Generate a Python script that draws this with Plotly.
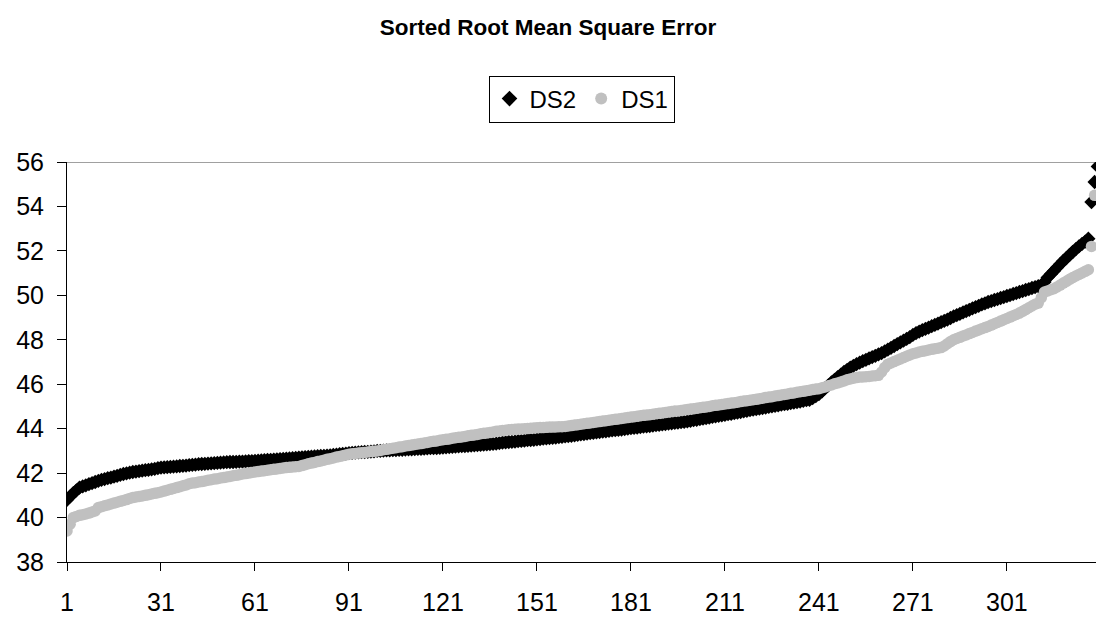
import plotly.graph_objects as go

title_text = "Sorted Root Mean Square Error"
series_names = ["DS2", "DS1"]
x_tick_labels = [1, 31, 61, 91, 121, 151, 181, 211, 241, 271, 301]

ds2 = [
    40.80, 40.95, 41.10, 41.22, 41.35, 41.40, 41.45, 41.50, 41.55, 41.60,
    41.65, 41.70, 41.73, 41.77, 41.80, 41.84, 41.88, 41.92, 41.96, 41.99,
    42.02, 42.05, 42.07, 42.09, 42.11, 42.13, 42.15, 42.17, 42.19, 42.22,
    42.25, 42.26, 42.27, 42.28, 42.29, 42.30, 42.32, 42.33, 42.34, 42.36,
    42.37, 42.38, 42.40, 42.41, 42.42, 42.43, 42.44, 42.45, 42.46, 42.47,
    42.48, 42.49, 42.50, 42.50, 42.51, 42.52, 42.52, 42.53, 42.54, 42.54,
    42.55, 42.56, 42.57, 42.58, 42.59, 42.60, 42.61, 42.62, 42.63, 42.64,
    42.65, 42.66, 42.67, 42.68, 42.70, 42.71, 42.72, 42.73, 42.74, 42.75,
    42.76, 42.77, 42.78, 42.79, 42.80, 42.82, 42.83, 42.85, 42.86, 42.88,
    42.90, 42.91, 42.92, 42.93, 42.94, 42.95, 42.96, 42.97, 42.98, 43.00,
    43.00, 43.01, 43.02, 43.02, 43.03, 43.04, 43.05, 43.05, 43.06, 43.07,
    43.07, 43.08, 43.09, 43.09, 43.10, 43.11, 43.12, 43.12, 43.13, 43.14,
    43.15, 43.16, 43.17, 43.18, 43.19, 43.20, 43.21, 43.22, 43.23, 43.24,
    43.25, 43.26, 43.27, 43.28, 43.29, 43.31, 43.32, 43.33, 43.35, 43.37,
    43.38, 43.40, 43.41, 43.42, 43.44, 43.45, 43.46, 43.48, 43.49, 43.50,
    43.52, 43.53, 43.55, 43.56, 43.58, 43.59, 43.60, 43.62, 43.63, 43.65,
    43.67, 43.68, 43.70, 43.72, 43.74, 43.76, 43.78, 43.80, 43.81, 43.83,
    43.85, 43.87, 43.88, 43.90, 43.92, 43.93, 43.95, 43.96, 43.98, 44.00,
    44.02, 44.04, 44.05, 44.07, 44.09, 44.10, 44.12, 44.14, 44.16, 44.17,
    44.19, 44.21, 44.23, 44.24, 44.26, 44.27, 44.29, 44.31, 44.33, 44.35,
    44.38, 44.40, 44.43, 44.45, 44.48, 44.50, 44.53, 44.55, 44.58, 44.60,
    44.62, 44.65, 44.67, 44.70, 44.72, 44.75, 44.78, 44.80, 44.83, 44.86,
    44.88, 44.90, 44.93, 44.95, 44.98, 45.00, 45.03, 45.05, 45.08, 45.10,
    45.12, 45.15, 45.17, 45.20, 45.22, 45.25, 45.28, 45.30, 45.38, 45.46,
    45.55, 45.68, 45.82, 45.95, 46.08, 46.20, 46.32, 46.43, 46.55, 46.65,
    46.75, 46.83, 46.90, 46.97, 47.04, 47.10, 47.16, 47.22, 47.28, 47.34,
    47.40, 47.48, 47.56, 47.64, 47.72, 47.80, 47.88, 47.96, 48.04, 48.12,
    48.22, 48.30, 48.37, 48.43, 48.49, 48.55, 48.61, 48.67, 48.73, 48.79,
    48.85, 48.91, 48.98, 49.05, 49.11, 49.17, 49.23, 49.29, 49.35, 49.41,
    49.47, 49.53, 49.59, 49.64, 49.70, 49.74, 49.79, 49.83, 49.88, 49.92,
    49.97, 50.01, 50.06, 50.10, 50.15, 50.19, 50.24, 50.28, 50.33, 50.37,
    50.41, 50.45, 50.60, 50.80, 50.95, 51.10, 51.25, 51.40, 51.55, 51.68,
    51.82, 51.95, 52.08, 52.20, 52.32, 52.42, 52.55, 54.20, 55.10, 55.80,
]

ds1 = [
    39.40, 39.70, 40.00, 40.05, 40.10, 40.13, 40.16, 40.20, 40.25, 40.30,
    40.45, 40.49, 40.53, 40.57, 40.61, 40.65, 40.69, 40.73, 40.77, 40.81,
    40.86, 40.90, 40.93, 40.95, 40.97, 41.00, 41.03, 41.06, 41.09, 41.12,
    41.15, 41.19, 41.23, 41.27, 41.31, 41.35, 41.39, 41.43, 41.47, 41.52,
    41.55, 41.57, 41.60, 41.62, 41.65, 41.68, 41.70, 41.73, 41.75, 41.78,
    41.80, 41.83, 41.85, 41.88, 41.90, 41.93, 41.96, 41.98, 42.00, 42.03,
    42.05, 42.07, 42.09, 42.11, 42.13, 42.15, 42.17, 42.19, 42.21, 42.23,
    42.25, 42.26, 42.28, 42.29, 42.30, 42.34, 42.38, 42.42, 42.45, 42.48,
    42.52, 42.55, 42.58, 42.62, 42.65, 42.68, 42.72, 42.75, 42.78, 42.82,
    42.85, 42.87, 42.88, 42.90, 42.92, 42.93, 42.95, 42.97, 42.98, 43.00,
    43.02, 43.05, 43.07, 43.10, 43.12, 43.14, 43.17, 43.19, 43.22, 43.24,
    43.26, 43.29, 43.31, 43.33, 43.36, 43.38, 43.41, 43.43, 43.45, 43.48,
    43.50, 43.52, 43.54, 43.57, 43.59, 43.61, 43.63, 43.65, 43.68, 43.70,
    43.72, 43.74, 43.77, 43.79, 43.81, 43.83, 43.85, 43.88, 43.90, 43.92,
    43.93, 43.95, 43.96, 43.97, 43.98, 43.99, 44.00, 44.01, 44.02, 44.03,
    44.04, 44.05, 44.05, 44.06, 44.07, 44.07, 44.08, 44.09, 44.09, 44.10,
    44.12, 44.14, 44.16, 44.18, 44.20, 44.22, 44.24, 44.26, 44.28, 44.30,
    44.32, 44.34, 44.36, 44.38, 44.40, 44.42, 44.44, 44.46, 44.48, 44.50,
    44.52, 44.54, 44.56, 44.58, 44.60, 44.62, 44.63, 44.65, 44.67, 44.69,
    44.71, 44.73, 44.75, 44.77, 44.79, 44.80, 44.82, 44.84, 44.86, 44.88,
    44.90, 44.92, 44.94, 44.96, 44.98, 45.00, 45.03, 45.05, 45.07, 45.09,
    45.11, 45.13, 45.15, 45.17, 45.19, 45.22, 45.24, 45.26, 45.28, 45.30,
    45.32, 45.35, 45.37, 45.40, 45.42, 45.44, 45.47, 45.49, 45.52, 45.54,
    45.56, 45.59, 45.61, 45.64, 45.66, 45.68, 45.71, 45.73, 45.76, 45.78,
    45.80, 45.84, 45.88, 45.93, 45.97, 46.02, 46.06, 46.10, 46.15, 46.20,
    46.24, 46.27, 46.30, 46.32, 46.33, 46.34, 46.35, 46.37, 46.38, 46.40,
    46.55, 46.75, 46.90, 46.96, 47.02, 47.08, 47.14, 47.20, 47.26, 47.32,
    47.37, 47.41, 47.45, 47.48, 47.51, 47.54, 47.57, 47.60, 47.62, 47.65,
    47.72, 47.82, 47.92, 48.00, 48.06, 48.11, 48.17, 48.22, 48.28, 48.33,
    48.39, 48.44, 48.50, 48.55, 48.60, 48.66, 48.72, 48.78, 48.84, 48.90,
    48.96, 49.02, 49.08, 49.14, 49.20, 49.28, 49.36, 49.44, 49.52, 49.60,
    49.65, 49.90, 50.15, 50.20, 50.25, 50.30, 50.38, 50.46, 50.55, 50.63,
    50.72, 50.80, 50.87, 50.94, 51.01, 51.08, 51.15, 52.20, 54.50,
]

x_ds2 = list(range(1, len(ds2) + 1))
x_ds1 = list(range(1, len(ds1) + 1))

FONT = "Liberation Sans, Arial, sans-serif"

fig = go.Figure()
fig.add_trace(go.Scatter(
    x=x_ds2, y=ds2, name=series_names[0], mode="markers",
    marker=dict(symbol="diamond", size=11, color="black", line=dict(width=0)),
))
fig.add_trace(go.Scatter(
    x=x_ds1, y=ds1, name=series_names[1], mode="markers",
    marker=dict(symbol="circle", size=11.5, color="#C0C0C0", line=dict(width=0)),
))

fig.update_layout(
    width=1096, height=617,
    margin=dict(l=67, r=0, t=162, b=55, pad=0, autoexpand=False),
    paper_bgcolor="white", plot_bgcolor="white",
    font=dict(family=FONT, color="black", size=25),
    title=dict(text="<b>" + title_text + "</b>", x=0.5, xref="container",
               y=1 - 27 / 617, yref="container", yanchor="middle",
               xanchor="center", font=dict(family=FONT, size=22.5, color="black"),
               automargin=False),
    showlegend=True,
    legend=dict(orientation="h", x=0.5, xanchor="center", y=1.1575,
                yanchor="middle", bordercolor="black", borderwidth=1,
                bgcolor="white", itemsizing="constant",
                font=dict(family=FONT, size=24, color="black"),
                itemwidth=30, tracegroupgap=0),
    xaxis=dict(range=[1, 1 + (1096 - 67) / 3.133], tickmode="array",
               tickvals=x_tick_labels, ticktext=[str(v) for v in x_tick_labels],
               showgrid=False, zeroline=False, showline=True, linecolor="black",
               linewidth=1, ticks="outside", ticklen=8, tickcolor="black",
               ticklabelstandoff=10, automargin=False,
               tickfont=dict(family=FONT, size=25)),
    yaxis=dict(range=[38, 56], dtick=2, tick0=38, showgrid=False,
               zeroline=False, showline=True, linecolor="black", linewidth=1,
               ticks="outside", ticklen=9, tickcolor="black",
               ticklabelstandoff=8, automargin=False,
               tickfont=dict(family=FONT, size=25)),
    shapes=[dict(type="line", xref="paper", yref="y", x0=0, x1=1, y0=56, y1=56,
                 line=dict(color="#808080", width=1.5), layer="below")],
)

fig.write_html("out.html",
               config={"displayModeBar": False},
               post_script="document.body.style.margin='0';"
                           "document.body.style.padding='0';"
                           "document.body.style.overflow='hidden';")
